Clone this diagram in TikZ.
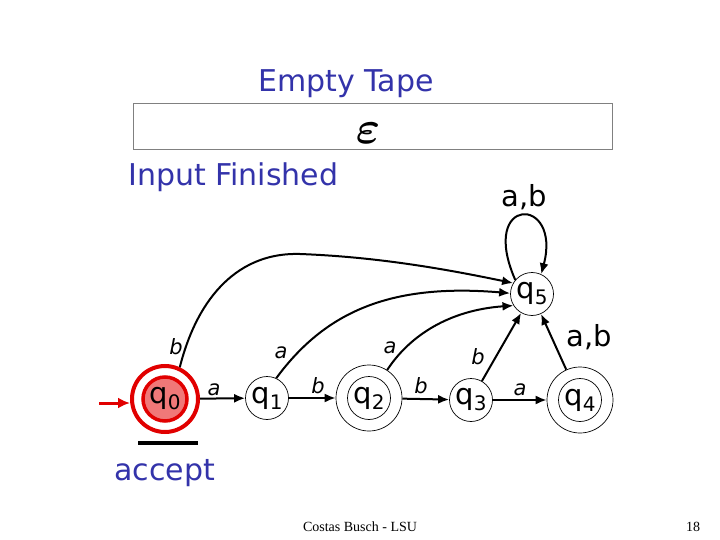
\documentclass[tikz,border=0pt]{standalone}
\usepackage{amsmath}
\usepackage{fontspec}
\setmainfont{DejaVu Sans}
\newfontfamily\footfont{Liberation Serif}
\usetikzlibrary{arrows.meta}
\definecolor{tblue}{RGB}{51,51,170}
\definecolor{sred}{RGB}{225,0,0}
\definecolor{sfill}{RGB}{240,120,120}
\newcommand{\qlab}[1]{q\raisebox{-6pt}{\fontsize{20}{20}\selectfont #1}}
\tikzset{
  every node/.style={inner sep=0pt},
  state/.style={circle, draw, line width=0.7pt, minimum size=43pt, font=\fontsize{29}{29}\selectfont},
  accstate/.style={circle, draw, line width=0.7pt, minimum size=66pt},
  edge/.style={line width=2pt, -{Latex[length=11pt,width=9pt]}},
  slab/.style={font=\fontsize{21}{21}\selectfont\itshape},
  blab/.style={font=\fontsize{29}{29}\selectfont},
  btext/.style={text=tblue, font=\fontsize{30}{34}\selectfont},
}
\begin{document}
\begin{tikzpicture}[x=1pt,y=-1pt]
\useasboundingbox (0,0) rectangle (720,540);
% texts
\node[btext] (title) at (346,84) {Empty Tape};
\node[draw=gray, line width=0.8pt, minimum width=479pt, minimum height=46pt] (tape) at (372.5,126) {};
\node (eps) at (368,133) {\scalebox{4.6}{$\boldsymbol{\varepsilon}$}};
\node[btext, anchor=west] (fin) at (128,177) {Input Finished};
\node[btext, anchor=west] (acc) at (114,473) {accept};
% states
\node[circle, draw=sred, line width=4pt, minimum size=66pt] (q0) at (165,399) {};
\node[circle, draw=sred, fill=sfill, line width=3.5pt, minimum size=44pt, font=\fontsize{29}{29}\selectfont] (q0i) at (q0) {\qlab{0}};
\node[state] (q1) at (267,398) {\qlab{1}};
\node[accstate] (q2) at (369,398) {};
\node[state] (q2i) at (q2) {\qlab{2}};
\node[state] (q3) at (471,400) {\qlab{3}};
\node[accstate] (q4) at (580,400) {};
\node[state] (q4i) at (q4) {\qlab{4}};
\node[state] (q5) at (532,294) {\qlab{5}};
% start arrow
\coordinate (start) at (99,403);
\draw[sred, line width=3pt, -{Latex[length=12pt,width=11pt]}] (start) -- (q0.west |- start);
% bar under q0
\coordinate (barL) at (138,443);
\coordinate (barR) at (198,443);
\draw[line width=4pt] (barL) -- (barR);
% edges
\draw[edge] (q0) -- (q1);
\draw[edge] (q1) -- (q2);
\draw[edge] (q2) -- (q3);
\draw[edge] (q3) -- (q4);
\draw[edge] (q0.65) .. controls (198,295) and (240,252) .. (300,254) .. controls (380,257) and (450,270) .. (q5.150);
\draw[edge] (q1.65) .. controls (325,312) and (390,283) .. (q5.178);
\draw[edge] (q2.57) .. controls (410,335) and (450,310) .. (q5.212);
\draw[edge] (q3) -- (q5);
\draw[edge] (q4) -- (q5);
\draw[edge] (q5.140) .. controls (478,195) and (562,195) .. (q5.65);
% edge labels
\node[slab] (l01) at (214,390) {a};
\node[slab] (l12) at (318,386) {b};
\node[slab] (l23) at (421,386) {b};
\node[slab] (l34) at (520,390) {a};
\node[slab] (l05) at (176,347) {b};
\node[slab] (l15) at (281,353) {a};
\node[slab] (l25) at (390,348) {a};
\node[slab] (l35) at (478,357) {b};
\node[blab] (l45) at (589,337) {a,b};
\node[blab] (l55) at (524,197) {a,b};
% footer
\node[font=\footfont\fontsize{14}{14}\selectfont] (foot) at (360,527) {Costas Busch - LSU};
\node[font=\footfont\fontsize{14}{14}\selectfont] (page) at (693,527) {18};
\end{tikzpicture}
\end{document}
